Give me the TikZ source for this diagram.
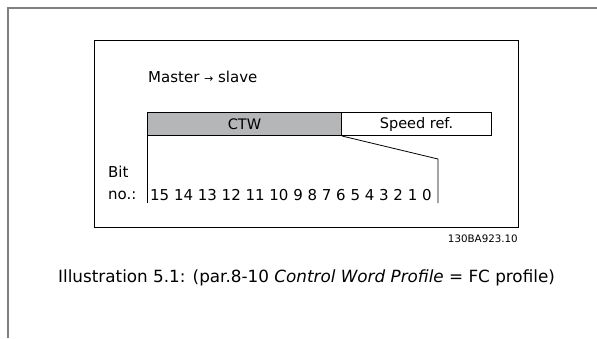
\documentclass[tikz,border=0pt]{standalone}
\usepackage{fontspec}
\setmainfont{DejaVu Sans}
\definecolor{ctwgray}{RGB}{180,182,184}
\definecolor{framegray}{RGB}{128,128,128}
\begin{document}
\begin{tikzpicture}[x=1pt,y=-1pt,
  frame/.style={draw=framegray,line width=1.5pt},
  boxline/.style={draw=black,line width=1pt},
  field/.style={draw=black,line width=1pt,minimum height=23pt,inner sep=0pt,font=\fontsize{14.5}{17}\selectfont},
  lbl/.style={inner sep=0pt,font=\fontsize{15}{17}\selectfont},
  conn/.style={draw=black,line width=0.8pt}]
\useasboundingbox (0,0) rectangle (597,338);
% outer frame
\draw[frame] (8,338) -- (8,8) -- (597,8);
% inner box
\draw[boxline] (94,40) rectangle (518,227);
\node[lbl,anchor=west] (ms) at (148,77) {Master {\fontsize{11}{11}\selectfont →} slave};
\node[field,fill=ctwgray,minimum width=194pt,anchor=north west] (ctw) at (147,112) {CTW};
\node[field,minimum width=150pt,anchor=north west] (spd) at (341,112) {Speed ref.};
\coordinate (lb) at (147,203);
\coordinate (rk) at (438,159);
\coordinate (rb) at (438,203);
\draw[conn] (ctw.south west) -- (lb);
\draw[conn] (ctw.south east) -- (rk) -- (rb);
\node[lbl,anchor=west] (bit) at (108,172) {Bit};
\node[lbl,anchor=west] (no) at (108,195) {no.:};
\node[lbl,anchor=west] (nums) at (150,195) {15 14 13 12 11 10 9 8 7 6 5 4 3 2 1 0};
\node[inner sep=0pt,anchor=east,font=\fontsize{10.3}{12}\selectfont] (code) at (518,239) {130BA923.10};
\node[inner sep=0pt,anchor=west,font=\fontsize{16.8}{19}\selectfont] (cap) at (58,278) {Illustration 5.1: (par.8-10 \textit{Control Word Profile} = FC profile)};
\end{tikzpicture}
\end{document}
